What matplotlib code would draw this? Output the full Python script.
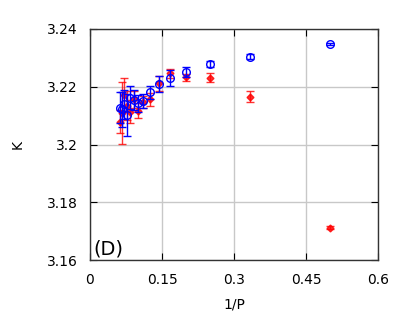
import matplotlib
matplotlib.use('Agg')
import matplotlib.pyplot as plt
import numpy as np

# data
P = np.array([2, 3, 4, 5, 6, 7, 8, 9, 10, 11, 12, 13, 14, 15, 16])
inv_p = 1.0 / P

k_blue = [3.2348, 3.2304, 3.2279, 3.2252, 3.2231, 3.2210, 3.2181, 3.2150,
          3.2143, 3.2155, 3.2162, 3.2102, 3.2140, 3.2122, 3.2128]
err_blue = [0.0004, 0.0008, 0.0009, 0.0018, 0.0028, 0.0028, 0.0022, 0.0025,
            0.0030, 0.0035, 0.0040, 0.0074, 0.0050, 0.0060, 0.0055]

k_red = [3.1712, 3.2166, 3.2231, 3.2233, 3.2246, 3.2212, 3.2156, 3.2148,
         3.2117, 3.2157, 3.2114, 3.2135, 3.2172, 3.2110, 3.2079]
err_red = [0.0005, 0.0020, 0.0016, 0.0012, 0.0015, 0.0025, 0.0022, 0.0020,
           0.0025, 0.0030, 0.0040, 0.0050, 0.0060, 0.0107, 0.0040]

x_ticks = [0, 0.15, 0.3, 0.45, 0.6]
x_labels = ['0', '0.15', '0.3', '0.45', '0.6']
y_ticks = [3.16, 3.18, 3.2, 3.22, 3.24]
y_labels = ['3.16', '3.18', '3.2', '3.22', '3.24']

fig = plt.figure(figsize=(4.07, 3.25), dpi=100)
ax = fig.add_axes([90/407, 65/325, 288/407, 231/325])

ax.errorbar(inv_p, k_red, yerr=err_red, fmt='D', color='red', markersize=3.5,
            elinewidth=1, capsize=3, capthick=1, alpha=0.8, zorder=3)
ax.errorbar(inv_p, k_blue, yerr=err_blue, fmt='o', color='blue', mfc='none',
            markersize=5.5, mew=1, elinewidth=1, capsize=3, capthick=1, zorder=4)

ax.set_xlim(0, 0.6)
ax.set_ylim(3.16, 3.24)
ax.set_xticks(x_ticks)
ax.set_xticklabels(x_labels)
ax.set_yticks(y_ticks)
ax.set_yticklabels(y_labels)
ax.grid(True, color='#c8c8c8', linewidth=1)
ax.set_axisbelow(True)
ax.tick_params(direction='in', length=5, top=True, right=True, labelsize=10, pad=9)
for s in ax.spines.values():
    s.set_linewidth(1)
    s.set_color('#333333')

ax.set_xlabel('1/P', fontsize=10, labelpad=8)
ax.set_ylabel('K', fontsize=10, labelpad=16)
ax.text(0.01, 0.005, '(D)', transform=ax.transAxes, fontsize=14, ha='left', va='bottom')

plt.savefig('out.png', dpi=100)
